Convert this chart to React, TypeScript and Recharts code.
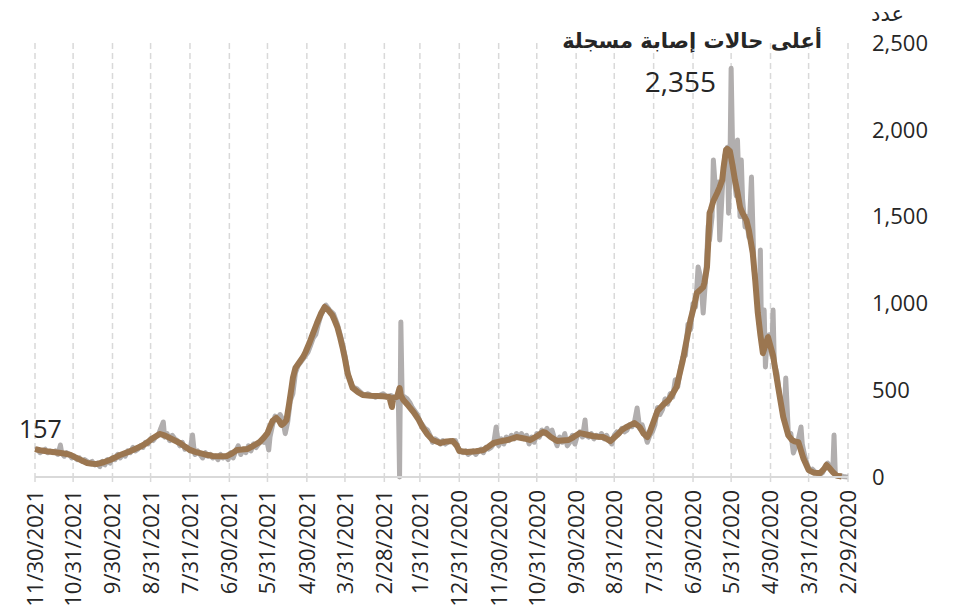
import { LineChart, Line, XAxis, YAxis, CartesianGrid } from "recharts";

// days counted from 2/29/2020 (day 0) to 11/30/2021 (day 640)
const monthEndDays = [0, 31, 61, 92, 122, 153, 184, 214, 245, 275, 306, 337, 365, 396, 426, 457, 487, 518, 549, 579, 610, 640];
const monthEndLabels = [
  "2/29/2020", "3/31/2020", "4/30/2020", "5/31/2020", "6/30/2020", "7/31/2020", "8/31/2020",
  "9/30/2020", "10/31/2020", "11/30/2020", "12/31/2020", "1/31/2021", "2/28/2021", "3/31/2021",
  "4/30/2021", "5/31/2021", "6/30/2021", "7/31/2021", "8/31/2021", "9/30/2021", "10/31/2021", "11/30/2021",
];
const countTicks = [0, 500, 1000, 1500, 2000, 2500];

// daily reported cases [day, cases]
const dailyCases: [number, number][] = [
  [0, 0], [2, 1], [4, 3], [6, 8], [8, 5], [10, 15], [11, 242], [12, 30], [14, 60], [16, 80], [18, 55],
  [20, 25], [22, 15], [24, 20], [26, 30], [28, 45], [30, 35], [32, 70], [34, 120], [36, 190], [37, 288],
  [39, 220], [41, 180], [43, 138], [45, 250], [47, 260], [49, 570], [50, 350], [52, 400], [54, 480],
  [56, 600], [58, 650], [59, 962], [60, 700], [62, 820], [64, 760], [65, 634], [66, 962], [68, 760],
  [69, 1308], [70, 880], [72, 1100], [74, 1200], [76, 1728], [78, 1380], [80, 1500], [81, 1440],
  [83, 1600], [84, 1826], [85, 1500], [87, 1941], [88, 1620], [90, 1750], [91, 1950], [92, 2355],
  [93, 1750], [94, 1520], [95, 1900], [97, 1850], [99, 1650], [101, 1365], [102, 1700], [104, 1620],
  [106, 1826], [107, 1500], [109, 1365], [110, 1450], [112, 1150], [114, 945], [116, 1150], [118, 1210],
  [120, 980], [122, 1000], [124, 850], [126, 880], [128, 700], [130, 690], [132, 620], [134, 520],
  [136, 560], [138, 460], [140, 480], [142, 420], [144, 450], [146, 390], [148, 360], [150, 400],
  [152, 300], [154, 260], [156, 240], [158, 200], [160, 250], [162, 300], [164, 280], [166, 397],
  [168, 320], [170, 290], [172, 300], [174, 270], [176, 260], [178, 280], [180, 250], [182, 260],
  [184, 240], [186, 190], [188, 210], [190, 240], [192, 220], [194, 250], [196, 230], [198, 240],
  [200, 220], [202, 250], [204, 230], [206, 240], [207, 328], [209, 230], [211, 260], [213, 240],
  [215, 190], [217, 240], [219, 200], [221, 180], [223, 250], [225, 200], [227, 230], [229, 180],
  [231, 220], [233, 270], [235, 240], [237, 280], [239, 250], [241, 270], [243, 230], [245, 250],
  [247, 200], [249, 230], [251, 190], [253, 240], [255, 220], [257, 250], [259, 230], [261, 250],
  [263, 220], [265, 240], [267, 210], [269, 230], [271, 190], [273, 220], [275, 180], [277, 288],
  [279, 190], [281, 170], [283, 160], [285, 170], [287, 140], [289, 160], [291, 150], [293, 130],
  [295, 150], [297, 140], [299, 130], [301, 150], [303, 140], [305, 150], [307, 170], [309, 210],
  [311, 200], [313, 210], [315, 200], [317, 190], [319, 210], [321, 190], [323, 210], [325, 220],
  [327, 200], [329, 240], [331, 270], [333, 280], [335, 300], [337, 320], [339, 360], [341, 380],
  [343, 400], [345, 430], [347, 450], [349, 460], [351, 470], [352, 893], [353, 0], [354, 470],
  [356, 450], [358, 460], [360, 470], [363, 460], [366, 480], [369, 470], [372, 460], [375, 470],
  [378, 480], [381, 470], [384, 490], [387, 510], [390, 520], [393, 580], [396, 700], [399, 800],
  [402, 880], [405, 940], [408, 960], [411, 990], [413, 960], [415, 930], [417, 880], [419, 820],
  [421, 800], [423, 760], [425, 720], [427, 700], [429, 680], [431, 660], [433, 640], [435, 600],
  [437, 480], [439, 440], [441, 320], [443, 250], [445, 330], [447, 360], [449, 340], [451, 350],
  [453, 300], [455, 230], [456, 155], [458, 230], [460, 200], [462, 210], [464, 190], [466, 170],
  [468, 190], [470, 150], [472, 180], [474, 140], [476, 160], [478, 130], [480, 180], [482, 150],
  [484, 110], [486, 140], [488, 100], [490, 120], [492, 110], [494, 130], [496, 100], [498, 120],
  [500, 110], [502, 130], [504, 120], [506, 140], [508, 110], [510, 130], [512, 150], [514, 130],
  [515, 170], [516, 242], [518, 150], [520, 170], [522, 160], [524, 200], [526, 180], [528, 210],
  [530, 220], [532, 240], [534, 210], [536, 250], [538, 230], [539, 317], [541, 280], [543, 240],
  [545, 230], [547, 210], [549, 220], [551, 190], [553, 200], [555, 170], [557, 180], [559, 160],
  [561, 150], [563, 170], [565, 140], [567, 150], [569, 120], [571, 130], [573, 110], [575, 130],
  [577, 100], [579, 110], [581, 80], [583, 100], [585, 70], [587, 90], [589, 60], [591, 80],
  [593, 70], [595, 90], [597, 80], [599, 90], [601, 100], [603, 90], [605, 110], [607, 100],
  [609, 120], [611, 110], [613, 130], [615, 140], [617, 120], [619, 140], [620, 184], [622, 130],
  [624, 150], [626, 140], [628, 150], [630, 140], [632, 160], [634, 150], [636, 140], [638, 160],
  [640, 157],
];

// moving average [day, cases]
const averageCases: [number, number][] = [
  [5, 3], [9, 8], [12, 29], [15, 55], [17, 69], [19, 45], [22, 23], [27, 25], [31, 40], [35, 105],
  [39, 200], [42, 205], [44, 213], [47, 240], [51, 346], [55, 518], [59, 700], [63, 806], [65, 760],
  [67, 714], [69, 820], [71, 945], [73, 1130], [75, 1290], [78, 1420], [80, 1480], [83, 1520],
  [85, 1555], [87, 1640], [89, 1711], [91, 1800], [93, 1878], [95, 1890], [96, 1884], [98, 1780],
  [99, 1711], [101, 1670], [103, 1636], [106, 1590], [108, 1540], [109, 1520], [110, 1350],
  [111, 1210], [113, 1120], [114, 1094], [116, 1080], [119, 1060], [121, 990], [124, 904], [127, 790],
  [130, 674], [133, 580], [135, 518], [138, 480], [141, 444], [145, 420], [150, 380], [153, 320],
  [156, 260], [158, 230], [161, 250], [164, 288], [168, 311], [171, 300], [175, 285], [178, 271],
  [182, 240], [187, 207], [190, 220], [193, 230], [197, 232], [201, 236], [206, 245], [211, 253],
  [216, 230], [220, 213], [225, 210], [229, 207], [234, 230], [238, 255], [240, 259], [245, 235],
  [250, 213], [255, 222], [261, 230], [268, 213], [274, 205], [279, 196], [283, 175], [287, 155],
  [293, 148], [300, 144], [306, 150], [308, 180], [311, 207], [316, 205], [321, 196], [327, 213],
  [331, 245], [335, 288], [338, 330], [342, 374], [346, 410], [350, 444], [352, 470], [353, 513],
  [355, 461], [358, 455], [359, 403], [360, 430], [361, 461], [366, 465], [371, 467], [376, 468],
  [382, 472], [386, 490], [390, 513], [394, 599], [396, 680], [398, 749], [400, 810], [402, 864],
  [404, 900], [406, 933], [409, 960], [412, 979], [415, 940], [418, 887], [421, 830], [424, 772],
  [427, 720], [429, 691], [432, 660], [435, 628], [437, 570], [438, 518], [440, 420], [442, 328],
  [444, 310], [446, 300], [448, 325], [450, 340], [453, 323], [455, 290], [457, 253], [460, 225],
  [463, 202], [468, 180], [473, 161], [477, 158], [481, 156], [485, 135], [489, 121], [495, 120],
  [500, 121], [505, 128], [510, 138], [514, 145], [518, 156], [522, 175], [526, 196], [530, 210],
  [534, 225], [538, 240], [542, 248], [547, 225], [552, 196], [557, 175], [563, 156], [568, 140],
  [573, 127], [577, 112], [581, 98], [586, 85], [591, 75], [595, 76], [599, 81], [604, 98],
  [608, 112], [612, 127], [616, 134], [621, 140], [626, 144], [631, 148], [636, 154], [640, 161],
];

const daily = dailyCases.map(([day, cases]) => ({ day, cases }));
const average = averageCases.map(([day, cases]) => ({ day, cases }));

const FONT = '"Open Sans", sans-serif';
const ARABIC = '"DejaVu Sans", sans-serif';
const INK = "#262626";

function DateTick({ x, y, payload }: any) {
  const label = monthEndLabels[monthEndDays.indexOf(payload.value)];
  return (
    <g transform={`translate(${x},${y})`}>
      <text transform="rotate(-90)" textAnchor="end" dy="0.36em" fontSize={22} fill={INK} fontFamily={FONT}>
        {label}
      </text>
    </g>
  );
}

export default function App() {
  return (
    <div style={{ position: "absolute", left: 0, top: 0, width: 960, height: 610, background: "#fff" }}>
      <LineChart width={960} height={610} data={daily} margin={{ top: 43, right: 12, left: 35, bottom: 0 }}>
        <CartesianGrid horizontal={false} stroke="#d9d9d9" strokeDasharray="6 4" strokeWidth={1.5} />
        <XAxis
          type="number"
          dataKey="day"
          domain={[0, 640]}
          reversed
          ticks={monthEndDays}
          interval={0}
          height={133}
          tick={<DateTick />}
          tickSize={5}
          tickMargin={8}
          axisLine={{ stroke: "#d9d9d9", strokeWidth: 2 }}
          tickLine={{ stroke: "#d9d9d9", strokeWidth: 1.5 }}
        />
        <YAxis
          orientation="right"
          width={100}
          domain={[0, 2500]}
          ticks={countTicks}
          axisLine={false}
          tickLine={false}
          tickSize={0}
          tickMargin={24}
          tick={{ fontSize: 22, fill: INK, fontFamily: FONT }}
          tickFormatter={(v: number) => v.toLocaleString("en-US")}
        />
        <Line data={daily} dataKey="cases" stroke="#b1aeae" strokeWidth={5} strokeLinejoin="round" dot={false} isAnimationActive={false} />
        <Line data={average} dataKey="cases" stroke="#9b7650" strokeWidth={6} strokeLinejoin="round" dot={false} isAnimationActive={false} />
      </LineChart>
      <svg width={960} height={610} style={{ position: "absolute", left: 0, top: 0, pointerEvents: "none" }}>
        <text x={904} y={21} textAnchor="end" fontSize={21} fontFamily={ARABIC} fill={INK}>عدد</text>
        <text x={822} y={48} textAnchor="end" fontSize={21} fontWeight="bold" fontFamily={ARABIC} fill={INK}>
          أعلى حالات إصابة مسجلة
        </text>
        <text x={716} y={92} textAnchor="end" fontSize={28} fontFamily={FONT} fill={INK}>2,355</text>
        <text x={19} y={438} fontSize={25} fontFamily={FONT} fill={INK}>157</text>
      </svg>
    </div>
  );
}
